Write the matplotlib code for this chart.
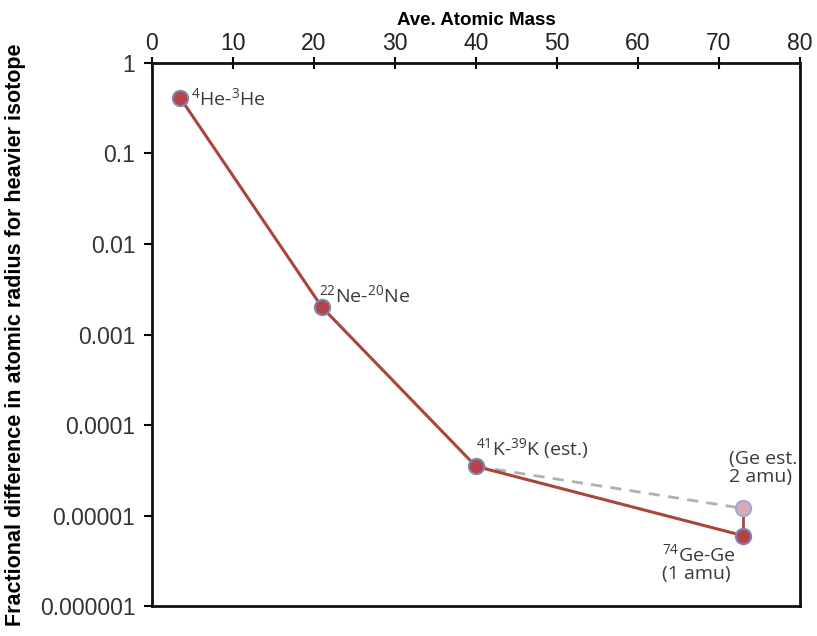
import matplotlib
matplotlib.use("Agg")
import matplotlib.pyplot as plt
from matplotlib.ticker import FixedLocator, FixedFormatter, NullLocator

plt.rcParams["font.family"] = "Liberation Sans"

# data
mass = [3.5, 21, 40, 73]
frac_diff = [0.41, 0.002, 3.5e-5, 6.0e-6]
labels = [
    r"$\mathregular{^{4}}$He-$\mathregular{^{3}}$He",
    r"$\mathregular{^{22}}$Ne-$\mathregular{^{20}}$Ne",
    r"$\mathregular{^{41}}$K-$\mathregular{^{39}}$K (est.)",
    "$\\mathregular{^{74}}$Ge-Ge\n(1 amu)",
]
ge_est_mass = [40, 73]
ge_est_frac = [3.5e-5, 1.2e-5]
ge_est_label = "(Ge est.\n2 amu)"

x_ticks = [0, 10, 20, 30, 40, 50, 60, 70, 80]
y_ticks = [1, 0.1, 0.01, 0.001, 0.0001, 0.00001, 0.000001]
y_tick_labels = ["1", "0.1", "0.01", "0.001", "0.0001", "0.00001", "0.000001"]

LINE = "#a8463c"
FILL = "#b6424a"
EDGE = "#7d86b2"
TXT = "#3a3a3a"

fig = plt.figure(figsize=(8.17, 6.36), dpi=100)
ax = fig.add_axes([0.186, 0.047, 0.793, 0.854])

# dashed estimate line and its marker
ax.plot(ge_est_mass, ge_est_frac, ls=(0, (4, 3)), color="#b0b0b0", lw=2, zorder=2)
ax.plot([mass[-1], ge_est_mass[-1]], [frac_diff[-1], ge_est_frac[-1]],
        color=LINE, lw=2, zorder=3)
ax.plot(ge_est_mass[-1], ge_est_frac[-1], "o", ms=11, mfc="#d9aab5",
        mec="#9eaad4", mew=1.5, zorder=4)

# main series
ax.plot(mass, frac_diff, color=LINE, lw=2.2, zorder=3)
ax.plot(mass, frac_diff, "o", ms=11, mfc=FILL, mec=EDGE, mew=1.5, zorder=5)

tkw = dict(fontfamily="Open Sans", fontsize=14, color=TXT, textcoords="offset points")
ax.annotate(labels[0], (mass[0], frac_diff[0]), xytext=(8, 0), ha="left", va="center", **tkw)
ax.annotate(labels[1], (mass[1], frac_diff[1]), xytext=(-2, 9), ha="left", va="center", **tkw)
ax.annotate(labels[2], (mass[2], frac_diff[2]), xytext=(0, 13), ha="left", va="center", **tkw)
ax.annotate(labels[3], (mass[3], frac_diff[3]), xytext=(-5, -20), ha="right", va="center",
            multialignment="left", linespacing=1.0, **tkw)
ax.annotate(ge_est_label, (ge_est_mass[-1], ge_est_frac[-1]), xytext=(-10, 29),
            ha="left", va="center", multialignment="left", linespacing=1.05, **tkw)

ax.set_xscale("linear")
ax.set_yscale("log")
ax.set_xlim(0, 80)
ax.set_ylim(1e-6, 1)

ax.xaxis.set_ticks_position("top")
ax.xaxis.set_label_position("top")
ax.set_xticks(x_ticks)
ax.yaxis.set_major_locator(FixedLocator(y_ticks))
ax.yaxis.set_major_formatter(FixedFormatter(y_tick_labels))
ax.yaxis.set_minor_locator(NullLocator())

ax.tick_params(axis="x", direction="inout", length=8, width=1.5, labelsize=16.5,
               labelcolor="#222222", pad=2)
ax.tick_params(axis="y", direction="out", length=6, width=1.5, labelsize=16.5,
               labelcolor="#333333", pad=6)

for s in ax.spines.values():
    s.set_linewidth(2)
    s.set_color("#111111")

ax.set_xlabel("Ave. Atomic Mass", fontsize=13.5, fontweight="bold", labelpad=5)
ax.set_ylabel("Fractional difference in atomic radius for heavier isotope",
              fontsize=15.5, fontweight="bold", labelpad=10)

fig.savefig("out.png", dpi=100)
